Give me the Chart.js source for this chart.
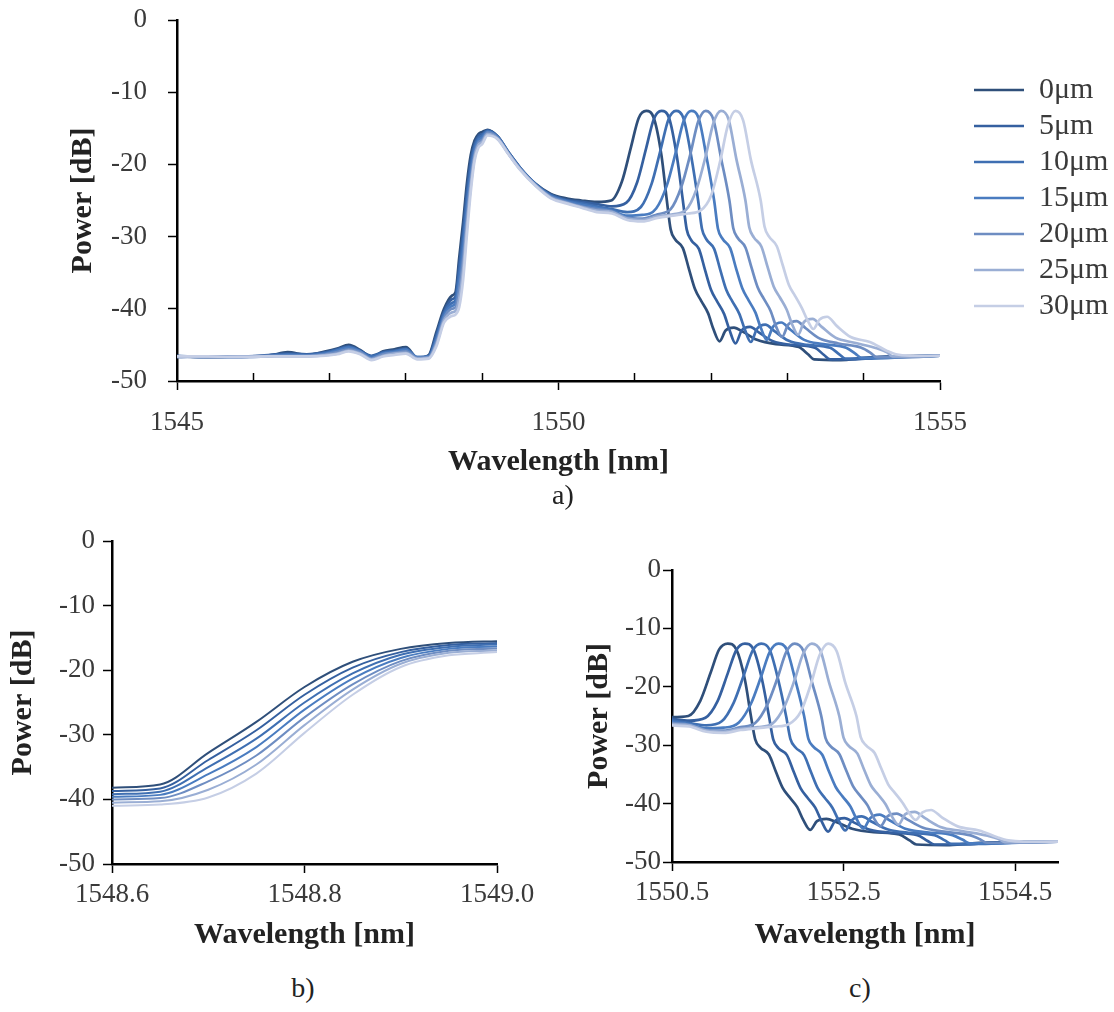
<!DOCTYPE html>
<html><head><meta charset="utf-8">
<script src="https://cdn.jsdelivr.net/npm/chart.js@4.4.1/dist/chart.umd.min.js"></script>
<style>
html,body{margin:0;padding:0;background:#fff;}
#wrap{position:relative;width:1114px;height:1012px;overflow:hidden;background:#fff;}
canvas{position:absolute;}
.lab{position:absolute;font-family:'Liberation Serif',serif;font-size:28px;color:#222;transform:translate(-50%,-50%);white-space:nowrap;}
</style></head><body>
<div id="wrap">
<canvas id="ca" width="1114" height="500" style="left:0;top:0"></canvas>
<canvas id="cb" width="540" height="472" style="left:0;top:500px"></canvas>
<canvas id="cc" width="554" height="472" style="left:560px;top:500px"></canvas>
<div class="lab" style="left:563px;top:495px">a)</div>
<div class="lab" style="left:303px;top:988px">b)</div>
<div class="lab" style="left:860px;top:988px">c)</div>
</div>
<script>
// ---------------- DATA ----------------
const seriesLabels = ['0μm','5μm','10μm','15μm','20μm','25μm','30μm'];
const seriesColors = ['#2F4F7A','#3560A0','#3F6FB2','#4A7CC0','#6E8DC2','#9AAED4','#C5CEE5'];

const yTicks = [-50,-40,-30,-20,-10,0];
const yTickLabels = ['-50','-40','-30','-20','-10','0'];
const aXTicks = [1545,1550,1555];
const aXTickLabels = ['1545','1550','1555'];
const aXMinorTicks = [1546,1547,1548,1549,1551,1552,1553,1554];
const bXTicks = [1548.6,1548.8,1549.0];
const bXTickLabels = ['1548.6','1548.8','1549.0'];
const cXTicks = [1550.5,1552.5,1554.5];
const cXTickLabels = ['1550.5','1552.5','1554.5'];

// shared wavelength grid for the left part of every trace [nm]
const wlLeft = [1545.0,1545.4,1545.8,1546.2,1546.45,1546.7,1546.95,1547.1,1547.25,1547.4,1547.55,1547.7,1547.85,1548.0,1548.15,1548.3,1548.4,1548.5,1548.6,1548.65,1548.7,1548.75,1548.8,1548.85,1548.9,1548.95,1549.0,1549.07,1549.2,1549.35,1549.5,1549.7,1549.9,1550.1,1550.3,1550.5];
// power [dB] on that grid
const pLeft0 = [-46.6,-46.7,-46.6,-46.5,-46.0,-46.4,-45.9,-45.5,-45.0,-45.7,-46.7,-45.9,-45.6,-45.3,-46.8,-46.4,-43.2,-40.0,-38.2,-37.7,-32.8,-28.0,-22.6,-18.7,-16.7,-15.8,-15.5,-15.2,-16.1,-18.4,-20.5,-22.7,-24.1,-24.7,-25.0,-25.2];
const pLeft1 = [-46.6,-46.6,-46.7,-46.4,-46.2,-46.3,-46.0,-45.6,-45.2,-45.8,-46.5,-46.0,-45.8,-45.5,-46.7,-46.5,-43.6,-40.4,-38.7,-38.3,-33.9,-29.3,-23.8,-19.6,-17.2,-16.1,-15.8,-15.3,-16.1,-18.4,-20.5,-22.7,-24.2,-24.9,-25.2,-25.5];
const pLeft2 = [-46.5,-46.7,-46.6,-46.5,-46.3,-46.4,-46.1,-45.7,-45.3,-45.9,-46.6,-46.1,-45.9,-45.6,-46.8,-46.6,-44.0,-40.7,-39.2,-38.8,-35.0,-30.6,-25.0,-20.5,-17.6,-16.4,-16.0,-15.4,-16.2,-18.5,-20.6,-22.8,-24.3,-25.0,-25.4,-25.8];
const pLeft3 = [-46.6,-46.6,-46.7,-46.6,-46.4,-46.5,-46.2,-45.8,-45.4,-45.9,-46.8,-46.2,-46.0,-45.7,-46.7,-46.6,-44.3,-41.0,-39.6,-39.3,-36.1,-31.9,-26.1,-21.3,-18.1,-16.7,-16.3,-15.5,-16.2,-18.5,-20.6,-22.8,-24.4,-25.1,-25.6,-26.0];
const pLeft4 = [-46.7,-46.6,-46.6,-46.5,-46.5,-46.5,-46.3,-46.0,-45.6,-46.0,-46.9,-46.3,-46.1,-45.9,-46.8,-46.7,-44.6,-41.3,-40.0,-39.8,-37.2,-33.2,-27.3,-22.2,-18.6,-17.0,-16.6,-15.6,-16.3,-18.6,-20.7,-22.9,-24.5,-25.2,-25.8,-26.2];
const pLeft5 = [-46.6,-46.7,-46.6,-46.6,-46.6,-46.6,-46.4,-46.2,-45.8,-46.2,-47.0,-46.5,-46.2,-46.1,-46.9,-46.8,-44.9,-41.6,-40.5,-40.3,-38.5,-34.6,-28.5,-23.0,-19.0,-17.3,-16.9,-15.8,-16.4,-18.6,-20.7,-22.9,-24.6,-25.3,-25.9,-26.4];
const pLeft6 = [-46.6,-46.6,-46.7,-46.6,-46.6,-46.6,-46.5,-46.3,-45.9,-46.3,-47.1,-46.6,-46.4,-46.2,-47.0,-46.9,-45.2,-41.9,-41.0,-40.8,-39.7,-36.0,-29.7,-23.8,-19.5,-17.7,-17.2,-16.0,-16.5,-18.7,-20.8,-23.0,-24.7,-25.4,-26.0,-26.6];

// right part of each trace (shifted second peak)
const wlRight0 = [1550.69,1550.83,1550.95,1551.05,1551.15,1551.25,1551.35,1551.42,1551.47,1551.53,1551.63,1551.71,1551.79,1551.87,1551.96,1552.03,1552.11,1552.19,1552.30,1552.42,1552.60,1552.85,1553.15,1553.27,1553.35,1553.7,1554.0,1554.4,1555.0];
const pRight0  = [-25.0,-22.4,-17.6,-13.6,-12.6,-13.6,-18.8,-25.0,-29.0,-30.4,-31.6,-34.5,-37.3,-38.9,-40.6,-42.8,-44.5,-43.0,-42.6,-43.2,-44.3,-44.9,-45.3,-46.3,-47.0,-47.1,-46.8,-46.6,-46.5];
const wlRight1 = [1550.7,1550.89,1551.03,1551.15,1551.25,1551.35,1551.45,1551.55,1551.63,1551.68,1551.74,1551.84,1551.92,1552.00,1552.08,1552.17,1552.24,1552.32,1552.40,1552.51,1552.63,1552.81,1553.06,1553.36,1553.48,1553.56,1553.9,1554.2,1554.6,1555.0];
const pRight1  = [-25.8,-25.3,-22.5,-17.7,-13.7,-12.6,-13.6,-18.8,-25.0,-29.0,-30.5,-31.7,-34.6,-37.4,-39.0,-40.7,-42.9,-44.8,-43.0,-42.5,-43.3,-44.5,-45.0,-45.4,-46.4,-47.0,-47.0,-46.7,-46.6,-46.5];
const wlRight2 = [1550.7,1550.9,1551.08,1551.22,1551.34,1551.44,1551.54,1551.64,1551.74,1551.83,1551.88,1551.94,1552.04,1552.12,1552.20,1552.28,1552.37,1552.44,1552.52,1552.60,1552.71,1552.83,1553.01,1553.26,1553.56,1553.68,1553.76,1554.1,1554.6,1555.0];
const pRight2  = [-26.2,-26.6,-25.9,-22.7,-17.9,-13.8,-12.6,-13.7,-18.9,-25.0,-28.9,-30.4,-31.7,-34.6,-37.4,-39.0,-40.7,-42.8,-44.6,-42.8,-42.2,-43.1,-44.4,-45.0,-45.4,-46.3,-46.9,-46.9,-46.6,-46.5];
const wlRight3 = [1550.7,1550.9,1551.1,1551.28,1551.42,1551.54,1551.64,1551.74,1551.84,1551.94,1552.04,1552.09,1552.15,1552.25,1552.33,1552.41,1552.49,1552.58,1552.65,1552.73,1552.81,1552.92,1553.04,1553.22,1553.47,1553.77,1553.89,1553.97,1554.3,1554.7,1555.0];
const pRight3  = [-26.4,-27.1,-27.0,-26.1,-22.9,-18.2,-14.0,-12.6,-13.7,-19.0,-25.0,-28.9,-30.3,-31.6,-34.5,-37.2,-38.8,-40.5,-42.6,-44.3,-42.5,-41.9,-42.9,-44.3,-44.9,-45.4,-46.2,-46.8,-46.8,-46.6,-46.5];
const wlRight4 = [1550.7,1550.9,1551.1,1551.3,1551.47,1551.61,1551.73,1551.83,1551.93,1552.03,1552.13,1552.24,1552.29,1552.35,1552.45,1552.53,1552.61,1552.69,1552.78,1552.85,1552.93,1553.01,1553.12,1553.24,1553.42,1553.67,1553.97,1554.09,1554.17,1554.5,1555.0];
const pRight4  = [-26.5,-27.4,-27.5,-26.9,-26.2,-23.1,-18.5,-14.1,-12.6,-13.8,-19.1,-25.0,-28.8,-30.2,-31.5,-34.3,-37.0,-38.6,-40.3,-42.4,-43.9,-42.2,-41.7,-42.7,-44.1,-44.8,-45.4,-46.1,-46.7,-46.7,-46.5];
const wlRight5 = [1550.7,1550.9,1551.1,1551.3,1551.5,1551.67,1551.81,1551.93,1552.03,1552.13,1552.23,1552.33,1552.45,1552.50,1552.56,1552.66,1552.74,1552.82,1552.90,1552.99,1553.06,1553.14,1553.22,1553.33,1553.45,1553.63,1553.88,1554.18,1554.30,1554.38,1554.7,1555.0];
const pRight5  = [-26.6,-27.5,-27.7,-27.2,-26.9,-26.3,-23.4,-18.8,-14.3,-12.6,-13.8,-19.2,-25.0,-28.7,-30.1,-31.4,-34.2,-36.9,-38.4,-40.1,-42.1,-43.6,-41.8,-41.4,-42.5,-44.0,-44.7,-45.5,-46.0,-46.6,-46.6,-46.5];
const wlRight6 = [1550.7,1550.9,1551.1,1551.3,1551.5,1551.7,1551.86,1552.00,1552.12,1552.22,1552.32,1552.42,1552.52,1552.65,1552.70,1552.76,1552.86,1552.94,1553.02,1553.10,1553.19,1553.26,1553.34,1553.42,1553.52,1553.65,1553.83,1554.08,1554.30,1554.42,1554.6,1555.0];
const pRight6  = [-26.8,-27.7,-27.9,-27.4,-27.1,-26.8,-26.4,-24.3,-19.5,-14.6,-12.6,-13.9,-19.3,-25.0,-28.6,-30.0,-31.3,-34.0,-36.7,-38.2,-39.9,-41.5,-42.8,-41.5,-41.1,-42.4,-43.9,-44.6,-45.8,-46.3,-46.5,-46.5];

// ---------------- BUILD ----------------
const leftP = [pLeft0,pLeft1,pLeft2,pLeft3,pLeft4,pLeft5,pLeft6];
const rightWl = [wlRight0,wlRight1,wlRight2,wlRight3,wlRight4,wlRight5,wlRight6];
const rightP = [pRight0,pRight1,pRight2,pRight3,pRight4,pRight5,pRight6];
function points(k){
  const out = [];
  wlLeft.forEach((x,i)=>out.push({x:x, y:leftP[k][i]}));
  rightWl[k].forEach((x,i)=>out.push({x:x, y:rightP[k][i]}));
  return out;
}
function datasets(width){
  return seriesLabels.map((lab,k)=>({
    label: lab, data: points(k), borderColor: seriesColors[k], backgroundColor: seriesColors[k],
    borderWidth: width, pointRadius: 0, cubicInterpolationMode: 'monotone', fill: false,
    order: seriesLabels.length - 1 - k
  }));
}

const FF = "'Liberation Serif','Times New Roman',serif";
const TICK_FONT = {family: FF, size: 27};
const TITLE_FONT = {family: FF, size: 30, weight: 'bold'};
const TXT = '#3a3a3a';

function xScale(o){
  return {
    type:'linear', position:'bottom', min:o.min, max:o.max,
    afterBuildTicks: s => { s.ticks = o.ticks.map(v=>({value:v})); },
    afterFit: s => { s.height = o.height; s.paddingLeft = 0; s.paddingRight = 0; },
    ticks:{ callback:(v,i)=>o.labels[i], font:TICK_FONT, color:TXT, padding:o.pad, maxRotation:0, autoSkip:false },
    grid:{ drawOnChartArea:false, drawTicks:true, tickLength:9, tickWidth:1.5, tickColor:'#000' },
    border:{ display:true, color:'#000', width:2.5 },
    title:{ display:true, text:'Wavelength [nm]', font:TITLE_FONT, color:'#222', padding:{top:0,bottom:o.titlePad} }
  };
}
function yScale(o){
  return {
    type:'linear', position:'left', min:-50, max:0,
    afterBuildTicks: s => { s.ticks = yTicks.map(v=>({value:v})); },
    afterFit: s => { s.width = o.width; s.paddingTop = 0; s.paddingBottom = 0; },
    ticks:{ callback:(v,i)=>yTickLabels[i], font:TICK_FONT, color:TXT, padding:o.pad, autoSkip:false },
    grid:{ drawOnChartArea:false, drawTicks:true, tickLength:9, tickWidth:1.5, tickColor:'#000' },
    border:{ display:true, color:'#000', width:2.5 },
    title:{ display:true, text:'Power [dB]', font:TITLE_FONT, color:'#222', padding:{top:o.titlePad,bottom:0} }
  };
}

function legendPlacer(left, width, top){
  return {
    id:'legendPlace',
    beforeLayout(chart){
      const lg = chart.legend;
      if (lg && !lg._fixedW){
        const fit = lg.fit.bind(lg);
        lg.fit = function(){ fit(); this.width = width; };
        lg._fixedW = true;
      }
    },
    afterLayout(chart){
      const lg = chart.legend;
      if (!lg) return;
      lg.left = left; lg.right = chart.width; lg.width = lg.right - lg.left;
      lg.top = top; lg.bottom = chart.height; lg.height = lg.bottom - lg.top;
    }
  };
}

Chart.defaults.font.family = FF;

// ---- chart a ----
new Chart(document.getElementById('ca'), {
  type:'line',
  data:{ datasets: datasets(2.7) },
  options:{
    responsive:false, animation:false, events:[],
    layout:{ padding:{left:0, right:0, top:20, bottom:0} },
    scales:{
      x: xScale({min:1545, max:1555, ticks:aXTicks, labels:aXTickLabels, height:119, pad:17, titlePad:20}),
      xm:{
        type:'linear', position:'bottom', weight:-10, min:1545, max:1555,
        afterBuildTicks: s => { s.ticks = aXMinorTicks.map(v=>({value:v})); },
        afterFit: s => { s.height = 0; s.paddingLeft = 0; s.paddingRight = 0; },
        ticks:{ display:false },
        grid:{ drawOnChartArea:false, drawTicks:true, tickLength:-8, tickWidth:1.5, tickColor:'#000' },
        border:{ display:false }
      },
      y: yScale({width:177, pad:21, titlePad:65})
    },
    plugins:{
      tooltip:{enabled:false},
      legend:{
        display:true, position:'right', align:'start',
        labels:{
          usePointStyle:true, pointStyle:'line', pointStyleWidth:50, boxWidth:50,
          font:{family:FF, size:30}, color:TXT, padding:6,
          sort:(a,b)=>a.datasetIndex-b.datasetIndex
        }
      }
    }
  },
  plugins:[legendPlacer(968, 174, 69)]
});

// ---- chart b ----
new Chart(document.getElementById('cb'), {
  type:'line',
  data:{ datasets: datasets(2) },
  options:{
    responsive:false, animation:false, events:[],
    layout:{ padding:{left:0, right:43, top:41, bottom:0} },
    scales:{
      x: xScale({min:1548.6, max:1549.0, ticks:bXTicks, labels:bXTickLabels, height:108, pad:6, titlePad:19}),
      y: yScale({width:112, pad:8, titlePad:5})
    },
    plugins:{ tooltip:{enabled:false}, legend:{display:false} }
  }
});

// ---- chart c ----
new Chart(document.getElementById('cc'), {
  type:'line',
  data:{ datasets: datasets(2.7) },
  options:{
    responsive:false, animation:false, events:[],
    layout:{ padding:{left:0, right:56, top:70, bottom:0} },
    scales:{
      x: xScale({min:1550.5, max:1555.0, ticks:cXTicks, labels:cXTickLabels, height:110, pad:6, titlePad:19}),
      y: yScale({width:112, pad:2, titlePad:21})
    },
    plugins:{ tooltip:{enabled:false}, legend:{display:false} }
  }
});
</script>
</body></html>
